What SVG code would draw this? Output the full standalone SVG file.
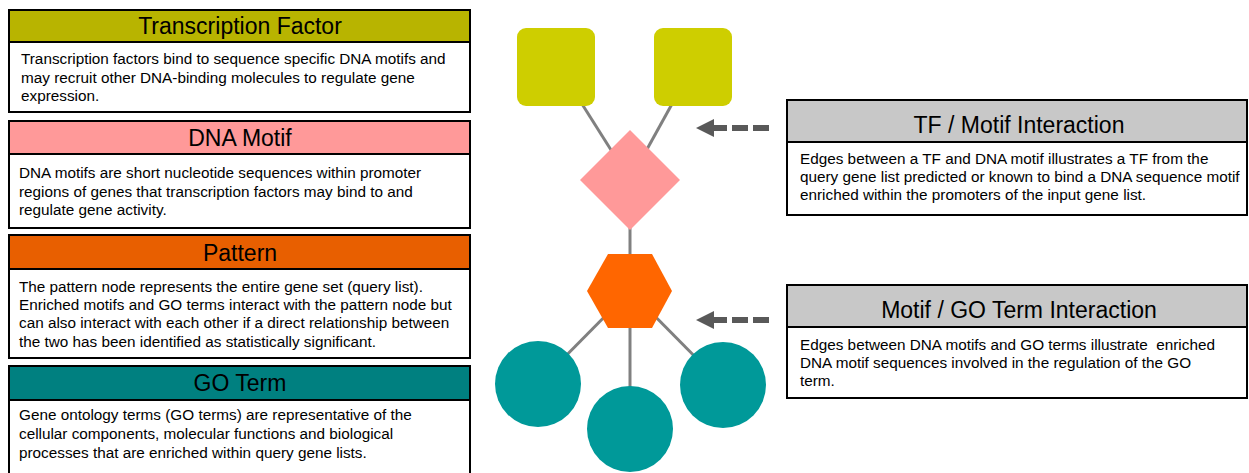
<svg xmlns="http://www.w3.org/2000/svg" width="1249" height="473" viewBox="0 0 1249 473">
<style>
.box{fill:#ffffff;stroke:#000000;stroke-width:2}
.hd{stroke:#000000;stroke-width:2}
.title{font-family:"Liberation Sans",Arial,sans-serif;font-size:23px;fill:#000000;text-anchor:middle}
.body{font-family:"Liberation Sans",Arial,sans-serif;font-size:15.3px;fill:#000000}
.edge{stroke:#808080;stroke-width:3;fill:none}
.arrow{stroke:#595959;stroke-width:6;stroke-dasharray:16 5;fill:none}
</style>
<defs>
<marker id="ah" viewBox="0 0 10 10" refX="0" refY="5" markerWidth="3" markerHeight="3" orient="auto" markerUnits="strokeWidth">
<path d="M0,0 L10,5 L0,10 Z" fill="#595959"/>
</marker>
</defs>
<g id="legend-tf">
<rect class="box" x="9" y="10" width="461" height="102"/>
<rect class="hd" x="9" y="10" width="461" height="32" fill="#b8b400"/>
<text class="title" x="240" y="34">Transcription Factor</text>
<text class="body" x="21" y="64">Transcription factors bind to sequence specific DNA motifs and</text>
<text class="body" x="21" y="83">may recruit other DNA-binding molecules to regulate gene</text>
<text class="body" x="21" y="101">expression.</text>
</g>
<g id="legend-motif">
<rect class="box" x="9" y="121" width="461" height="107"/>
<rect class="hd" x="9" y="121" width="461" height="33" fill="#ff9999"/>
<text class="title" x="240" y="146">DNA Motif</text>
<text class="body" x="19" y="178">DNA motifs are short nucleotide sequences within promoter</text>
<text class="body" x="19" y="197">regions of genes that transcription factors may bind to and</text>
<text class="body" x="19" y="215">regulate gene activity.</text>
</g>
<g id="legend-pattern">
<rect class="box" x="9" y="235" width="461" height="123"/>
<rect class="hd" x="9" y="235" width="461" height="34" fill="#e85f00"/>
<text class="title" x="240" y="261">Pattern</text>
<text class="body" x="19" y="292">The pattern node represents the entire gene set (query list).</text>
<text class="body" x="19" y="310">Enriched motifs and GO terms interact with the pattern node but</text>
<text class="body" x="19" y="328">can also interact with each other if a direct relationship between</text>
<text class="body" x="19" y="347">the two has been identified as statistically significant.</text>
</g>
<g id="legend-go">
<rect class="box" x="9" y="366" width="461" height="120"/>
<rect class="hd" x="9" y="366" width="461" height="34" fill="#008080"/>
<text class="title" x="240" y="391">GO Term</text>
<text class="body" x="19" y="420">Gene ontology terms (GO terms) are representative of the</text>
<text class="body" x="19" y="439">cellular components, molecular functions and biological</text>
<text class="body" x="19" y="458">processes that are enriched within query gene lists.</text>
</g>
<g id="legend-tf-motif">
<rect class="box" x="787" y="100" width="460" height="115"/>
<rect class="hd" x="787" y="100" width="460" height="42" fill="#c8c8c8"/>
<text class="title" x="1019" y="133">TF / Motif Interaction</text>
<text class="body" x="800" y="164">Edges between a TF and DNA motif illustrates a TF from the</text>
<text class="body" x="800" y="182">query gene list predicted or known to bind a DNA sequence motif</text>
<text class="body" x="800" y="200">enriched within the promoters of the input gene list.</text>
</g>
<g id="legend-motif-go">
<rect class="box" x="787" y="285" width="460" height="113"/>
<rect class="hd" x="787" y="285" width="460" height="42" fill="#c8c8c8"/>
<text class="title" x="1019" y="318">Motif / GO Term Interaction</text>
<text class="body" x="800" y="350" xml:space="preserve">Edges between DNA motifs and GO terms illustrate  enriched</text>
<text class="body" x="800" y="368">DNA motif sequences involved in the regulation of the GO</text>
<text class="body" x="800" y="386">term.</text>
</g>
<g id="connectors">
<line class="edge" x1="582" y1="104" x2="630" y2="180"/>
<line class="edge" x1="672" y1="104" x2="630" y2="180"/>
<line class="edge" x1="630" y1="180" x2="630" y2="291"/>
<line class="edge" x1="630" y1="291" x2="538" y2="384"/>
<line class="edge" x1="630" y1="291" x2="630" y2="429"/>
<line class="edge" x1="630" y1="291" x2="723" y2="385"/>
<line class="arrow" x1="769" y1="128" x2="714" y2="128" marker-end="url(#ah)"/>
<line class="arrow" x1="769" y1="320" x2="714" y2="320" marker-end="url(#ah)"/>
</g>
<g id="tf1"><rect x="517" y="28" width="78" height="78" rx="9" fill="#cece00"/></g>
<g id="tf2"><rect x="654" y="28" width="78" height="78" rx="9" fill="#cece00"/></g>
<g id="motif"><polygon points="630,130 680,180 630,230 580,180" fill="#ff9999"/></g>
<g id="pattern"><polygon points="608,254 652,254 672,291 652,328 608,328 587,291" fill="#ff6600"/></g>
<g id="go1"><circle cx="538" cy="384" r="43" fill="#009999"/></g>
<g id="go2"><circle cx="630" cy="429" r="43" fill="#009999"/></g>
<g id="go3"><circle cx="723" cy="385" r="43" fill="#009999"/></g>
</svg>
